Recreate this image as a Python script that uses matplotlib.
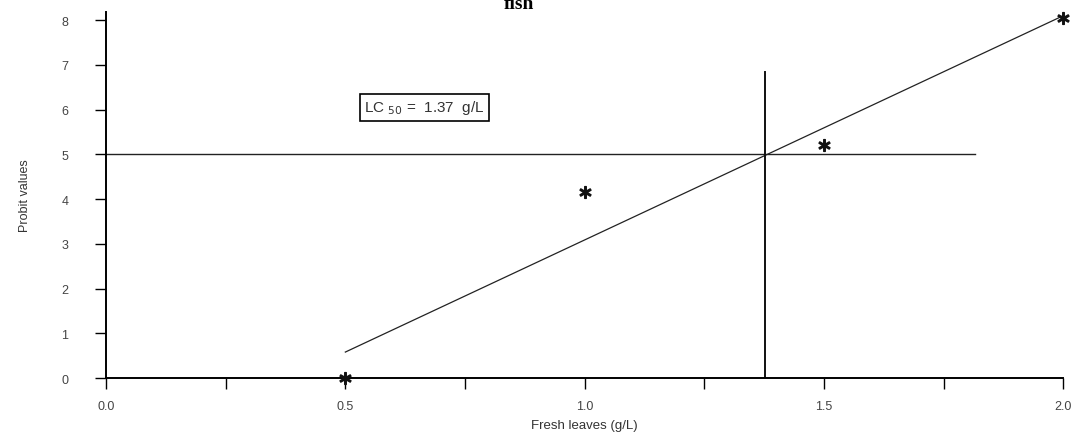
import matplotlib
matplotlib.use("Agg")
import matplotlib.pyplot as plt
import numpy as np

# observed probit values per concentration
conc = [0.5, 1.0, 1.5, 2.0]
probit = [0.0, 4.15, 5.2, 8.05]

# fitted regression line (end points)
fit_x = [0.5, 2.0]
fit_y = [0.58, 8.1]

lc50 = 1.37
ref_probit = 5.0
hline_end = 1.816
vline_top = 6.83

xticks = [0, 0.25, 0.5, 0.75, 1.0, 1.25, 1.5, 1.75, 2.0]
xticklabels = ["0.0", "", "0.5", "", "1.0", "", "1.5", "", "2.0"]
yticks = [0, 1, 2, 3, 4, 5, 6, 7, 8]

plt.rcParams['font.family'] = ['Liberation Sans', 'DejaVu Sans']

fig = plt.figure(figsize=(10.77, 4.35), dpi=100)
ax = fig.add_axes([0.0984, 0.1287, 0.889, 0.8413])

ax.plot(fit_x, fit_y, color="#222222", lw=0.9)
ax.plot([0, hline_end], [ref_probit, ref_probit], color="#222222", lw=1.0)
ax.plot([lc50 + 0.006, lc50 + 0.006], [0, vline_top], color="#111111", lw=1.4)
ax.plot(conc, probit, linestyle="none", marker="$\\ast$", markersize=8.5,
        color="#111111", clip_on=False, zorder=5)

ax.text(0.665, 6.05, "LC $_{50}$ =  1.37  g/L", fontsize=11, color="#333333",
        ha="center", va="center",
        bbox=dict(boxstyle="square,pad=0.3", fc="white", ec="black", lw=1.2))

ax.set_xlim(0, 2.0)
ax.set_ylim(0, 8.18)
ax.set_xticks(xticks)
ax.set_xticklabels(xticklabels)
ax.set_yticks(yticks)
ax.tick_params(axis="both", direction="out", length=8, width=1.0,
               labelsize=9, labelcolor="#444444")
ax.tick_params(axis="x", pad=8)
ax.tick_params(axis="y", pad=19)
for side in ["top", "right"]:
    ax.spines[side].set_visible(False)
for side in ["left", "bottom"]:
    ax.spines[side].set_linewidth(1.4)

ax.set_xlabel("Fresh leaves (g/L)", fontsize=9.5, color="#333333", labelpad=5)
ax.set_ylabel("Probit values", fontsize=9, color="#333333", labelpad=22,
              fontstretch="condensed")

fig.text(0.482, 0.99, "fish", family="Liberation Serif", fontweight="bold",
         fontsize=14, ha="center", va="center")

fig.savefig("out.png", dpi=100)
